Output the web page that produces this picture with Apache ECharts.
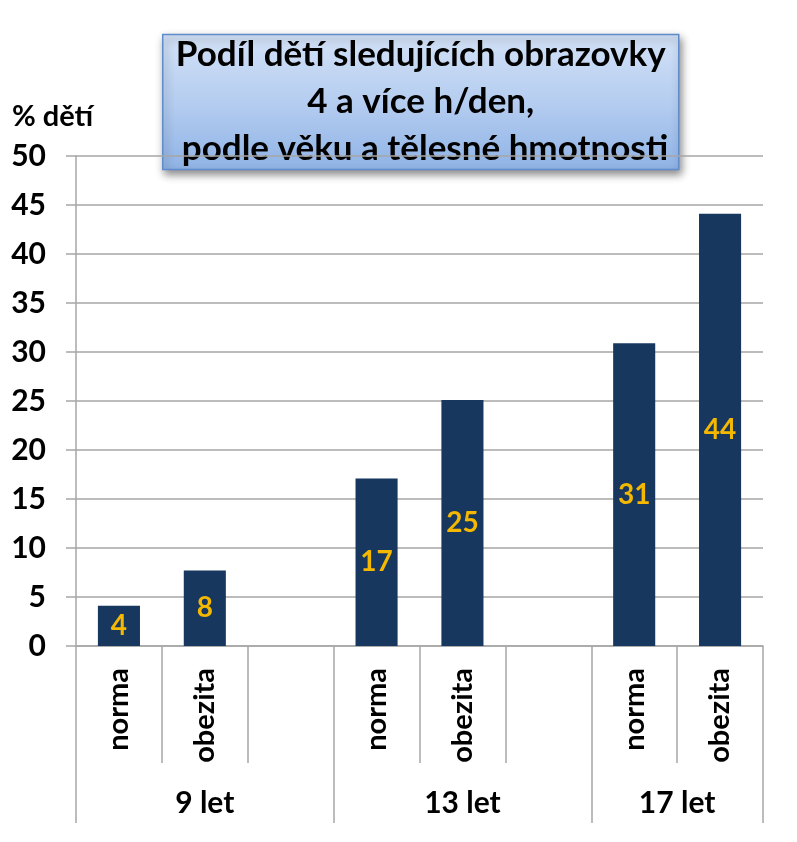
<!DOCTYPE html>
<html>
<head>
<meta charset="utf-8">
<script src="https://cdn.jsdelivr.net/npm/echarts@6/dist/echarts.min.js"></script>
<style>
  html, body { margin: 0; padding: 0; background: #ffffff; }
  #chart { width: 797px; height: 842px; }
</style>
</head>
<body>
<div id="chart"></div>
<script>
// ---- data ----
var categories = ['norma', 'obezita', '', 'norma', 'obezita', '', 'norma', 'obezita'];
var values = [4.1, 7.7, null, 17.1, 25.1, null, 30.9, 44.1];
var groupLabels = ['9 let', '13 let', '17 let'];
var groupSizes = [3, 3, 2];
var yTicks = [0, 5, 10, 15, 20, 25, 30, 35, 40, 45, 50];
var titleLines = ['Podíl dětí sledujících obrazovky', '4 a více h/den,', ' podle věku a tělesné hmotnosti'];
var yAxisTitle = '% dětí';

// derived group boundaries / centers (in category units)
var groupBounds = [0];
var groupCenters = [];
groupSizes.forEach(function (s) {
  var start = groupBounds[groupBounds.length - 1];
  groupCenters.push(start + s / 2);
  groupBounds.push(start + s);
});
var totalSlots = groupBounds[groupBounds.length - 1];

var FONT = 'Lato';
var gridColor = '#a6a6a6';

var chart = echarts.init(document.getElementById('chart'), null, { renderer: 'canvas' });

var option = {
  backgroundColor: '#ffffff',
  animation: false,
  grid: { left: 76, right: 34, top: 156, bottom: 196, containLabel: false },
  xAxis: [
    {
      type: 'category',
      data: categories,
      boundaryGap: true,
      axisLine: { show: true, lineStyle: { color: gridColor, width: 1.5 } },
      axisTick: { show: true, length: 117, interval: 0, lineStyle: { color: gridColor, width: 1.5 } },
      axisLabel: {
        interval: 0, rotate: 90, margin: 22,
        fontFamily: FONT, fontWeight: 'bold', fontSize: 29, color: '#000000'
      },
      splitLine: { show: false }
    },
    {
      type: 'value',
      min: 0, max: totalSlots,
      position: 'bottom',
      axisLine: { show: false },
      splitLine: { show: false },
      axisTick: {
        show: true, length: 177, customValues: groupBounds,
        lineStyle: { color: gridColor, width: 1.5 }
      },
      axisLabel: {
        show: true, customValues: groupCenters, margin: 142,
        fontFamily: FONT, fontWeight: 'bold', fontSize: 30, color: '#000000',
        formatter: function (v) {
          var i = groupCenters.indexOf(v);
          return i >= 0 ? groupLabels[i] : '';
        }
      }
    }
  ],
  yAxis: {
    type: 'value',
    min: yTicks[0], max: yTicks[yTicks.length - 1], interval: yTicks[1] - yTicks[0],
    axisLine: { show: true, lineStyle: { color: gridColor, width: 1.5 } },
    axisTick: { show: true, length: 10, lineStyle: { color: gridColor, width: 1.5 } },
    axisLabel: {
      margin: 30, fontFamily: FONT, fontWeight: 'bold', fontSize: 30, color: '#000000'
    },
    splitLine: { show: true, lineStyle: { color: gridColor, width: 1.5 } }
  },
  series: [
    {
      type: 'bar',
      xAxisIndex: 0,
      data: values,
      barWidth: '49%',
      itemStyle: { color: '#17375e' },
      label: {
        show: true, position: 'inside',
        fontFamily: FONT, fontWeight: 'bold', fontSize: 28, color: '#f5b800',
        formatter: function (p) { return p.value == null ? '' : Math.round(p.value); }
      }
    }
  ],
  graphic: [
    {
      type: 'text', left: 12, top: 102, z: 10,
      style: { text: yAxisTitle, font: 'bold 29px Lato', fill: '#000000' }
    },
    {
      type: 'group', left: 162, top: 31, z: 20,
      children: [
        {
          type: 'rect',
          shape: { x: 0, y: 0, width: 516, height: 135 },
          style: {
            fill: new echarts.graphic.LinearGradient(0, 0, 0, 1, [
              { offset: 0, color: '#d3e2f7' },
              { offset: 0.5, color: '#b5cdf0' },
              { offset: 1, color: '#8fb3e6' }
            ]),
            stroke: '#5f8ccc', lineWidth: 1.5,
            shadowBlur: 8, shadowOffsetX: 2, shadowOffsetY: 4, shadowColor: 'rgba(0,0,0,0.45)'
          }
        },
        {
          type: 'text',
          x: 258, y: 67,
          style: {
            text: titleLines.join('\n'),
            font: 'bold 35px Lato', fill: '#000000',
            align: 'center', verticalAlign: 'middle', lineHeight: 47
          }
        }
      ]
    }
  ]
};

chart.setOption(option);
</script>
</body>
</html>
